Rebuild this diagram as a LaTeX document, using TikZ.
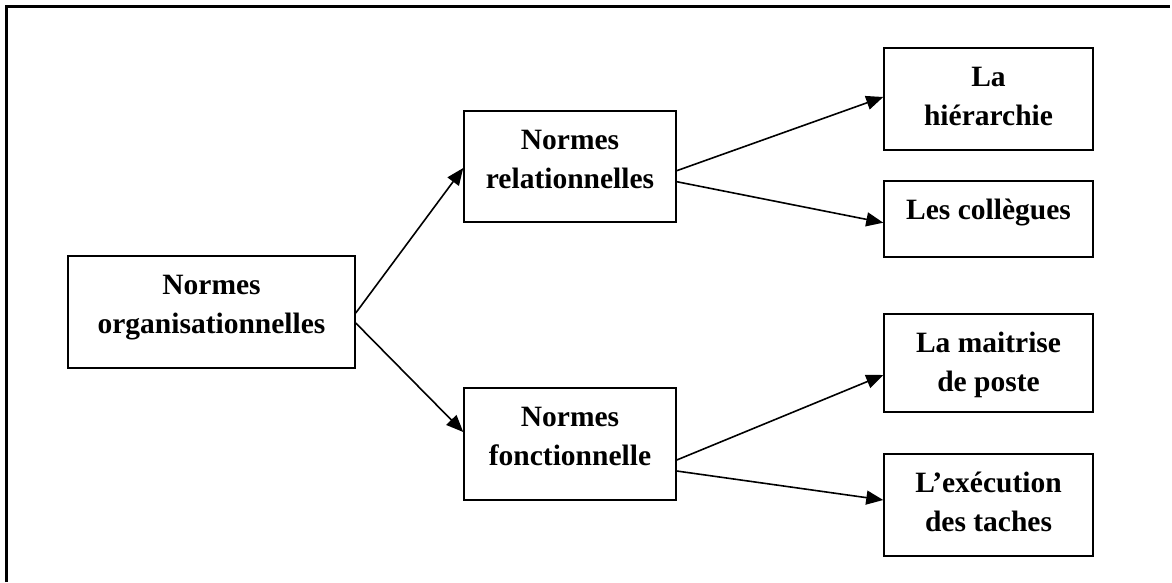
\documentclass[tikz,border=0pt]{standalone}
\usepackage{fontspec}
\setmainfont{Liberation Serif}
\usetikzlibrary{arrows.meta}
\newcommand\boxtext[1]{\begin{tabular}[t]{@{}c@{}}#1\end{tabular}}
\begin{document}
\begin{tikzpicture}[x=1pt,y=-1pt,
  box/.style={draw, line width=1.5pt, inner sep=0pt, text height=38.5pt,
    minimum width=#1, font=\fontsize{29.5}{39}\selectfont\bfseries},
  conn/.style={line width=1.6pt, -{Triangle[length=17pt,width=14pt]}},
  frame/.style={line width=2.6pt}
]
\useasboundingbox (0,0) rectangle (1172,582);
\draw[frame] (6.5,582) -- (6.5,6.5) -- (1170,6.5);

\node[box=287pt, text depth=73.5pt, anchor=base] (org) at (211.5,294.5) {\boxtext{Normes\\organisationnelles}};
\node[box=212pt, text depth=72.5pt, anchor=base] (rel) at (570,149.5) {\boxtext{Normes\\relationnelles}};
\node[box=212pt, text depth=73.5pt, anchor=base] (fonc) at (570,426.5) {\boxtext{Normes\\fonctionnelle}};
\node[box=209pt, text depth=63.5pt, anchor=base] (hier) at (988.5,86.5) {\boxtext{La\\hiérarchie}};
\node[box=209pt, text depth=37.5pt, anchor=base] (coll) at (988.5,219.5) {\boxtext{Les collègues}};
\node[box=209pt, text depth=59.5pt, anchor=base] (mait) at (988.5,352.5) {\boxtext{La maitrise\\de poste}};
\node[box=209pt, text depth=63.5pt, anchor=base] (exec) at (988.5,492.5) {\boxtext{L’exécution\\des taches}};

\draw[conn] ([yshift=-1pt]org.east) -- ([yshift=-1.5pt]rel.west);
\draw[conn] ([yshift=-11pt]org.east) -- ([yshift=12pt]fonc.west);
\draw[conn] ([yshift=-4.2pt]rel.east) -- ([yshift=2pt]hier.west);
\draw[conn] ([yshift=-15.2pt]rel.east) -- ([yshift=-3.7pt]coll.west);
\draw[conn] ([yshift=-16pt]fonc.east) -- ([yshift=-12pt]mait.west);
\draw[conn] ([yshift=-27pt]fonc.east) -- ([yshift=5pt]exec.west);
\end{tikzpicture}
\end{document}
